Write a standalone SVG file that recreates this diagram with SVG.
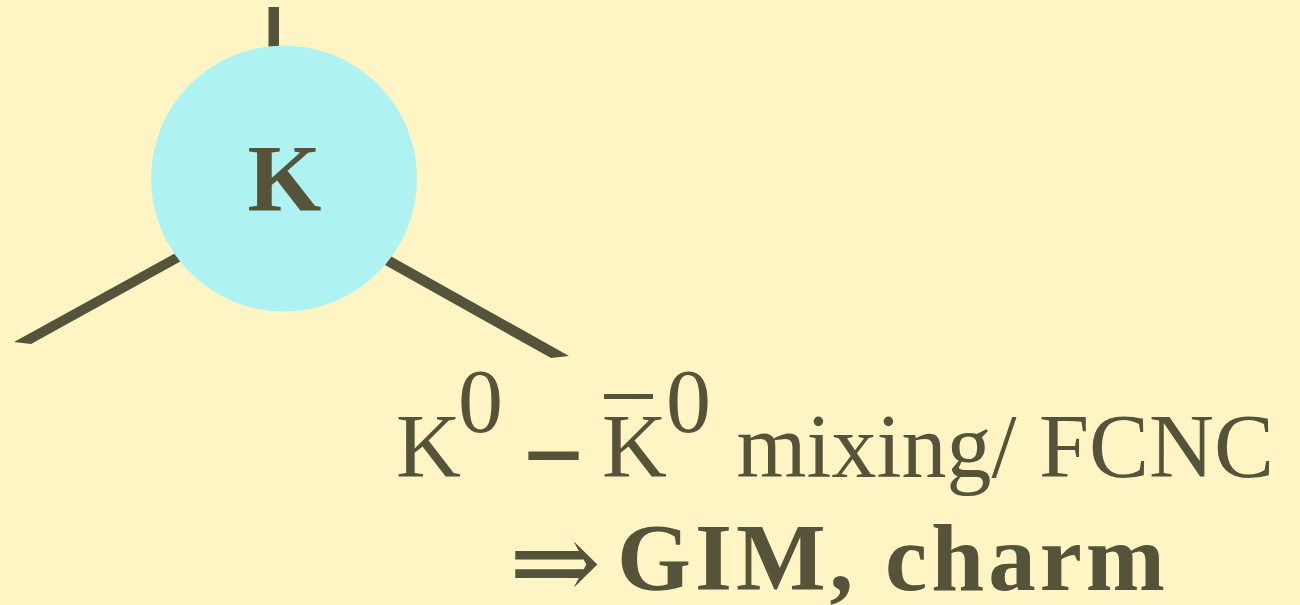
<svg xmlns="http://www.w3.org/2000/svg" width="1300" height="605" viewBox="0 0 1300 605">
<style>
.bg{fill:#FFF5C4}
.ln{fill:#55533A}
.node{fill:#AFF2F2}
.t{font-family:"Liberation Serif","Times New Roman",serif;fill:#55533A}
.b{font-weight:bold}
</style>
<rect class="bg" x="0" y="0" width="1300" height="605"/>
<g id="connectors">
<rect class="ln" x="268.5" y="7" width="10.5" height="60"/>
<polygon class="ln" points="14,342 31,344 250,223 250,212"/>
<polygon class="ln" points="320,216.6 569,356 551,358 320,228.6"/>
</g>
<g id="node-K">
<circle class="node" cx="284" cy="178.5" r="133"/>
<text class="t b" x="284.5" y="211" font-size="95" text-anchor="middle">K</text>
</g>
<g id="label">
<text class="t" x="396" y="477" font-size="90">K</text>
<text class="t" x="458" y="432" font-size="90">0</text>
<text class="t" x="531" y="477" font-size="90" stroke="#55533A" stroke-width="4">–</text>
<text class="t" x="602" y="477" font-size="90">K</text>
<rect class="ln" x="604" y="394" width="49" height="5"/>
<text class="t" x="666" y="432" font-size="90">0</text>
<text class="t" x="736.5" y="477" font-size="90">mixing/ FCNC</text>
<text x="509" y="600" font-size="110" font-family="DejaVu Serif, serif" fill="#55533A">⇒</text>
<text class="t b" x="617" y="590" font-size="95" textLength="548" lengthAdjust="spacing">GIM, charm</text>
</g>
</svg>
